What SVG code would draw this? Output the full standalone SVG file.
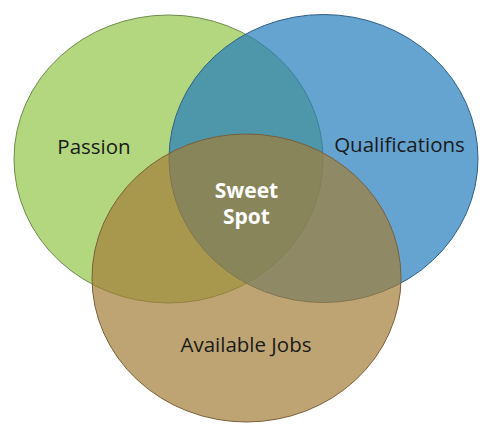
<svg xmlns="http://www.w3.org/2000/svg" width="500" height="432" viewBox="0 0 500 432">
<style>
.c{stroke-width:1}
.lbl{font-family:"Open Sans","Noto Sans",sans-serif;font-size:20.5px;fill:#1a1a1a;text-anchor:middle}
.sw{font-family:"Open Sans","Noto Sans",sans-serif;font-size:21px;font-weight:bold;fill:#ffffff;text-anchor:middle}
</style>
<rect width="500" height="432" fill="#ffffff"/>
<g id="passion">
<ellipse class="c" cx="168.5" cy="159" rx="154.5" ry="144" fill="#b3d77f" stroke="#6f8a4c"/>
</g>
<g id="qualifications">
<ellipse class="c" cx="323.5" cy="158.5" rx="154.5" ry="144" fill="#237cbc" fill-opacity="0.7" stroke="#2e5f86"/>
</g>
<g id="jobs">
<ellipse class="c" cx="246.5" cy="278" rx="154.5" ry="144" fill="#a37d37" fill-opacity="0.7" stroke="#7a6038"/>
</g>
<g id="labels">
<text class="lbl" x="94" y="154">Passion</text>
<text class="lbl" x="399.5" y="152">Qualifications</text>
<text class="lbl" x="246" y="352">Available Jobs</text>
<text class="sw" x="246.5" y="198">Sweet</text>
<text class="sw" x="246.5" y="224">Spot</text>
</g>
</svg>
